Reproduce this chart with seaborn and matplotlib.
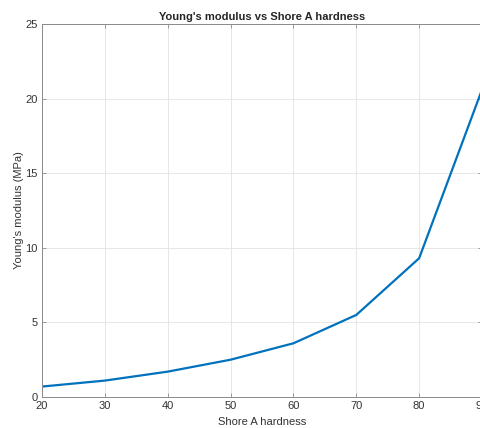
import matplotlib
matplotlib.use("Agg")
import matplotlib.pyplot as plt
import seaborn as sns
import pandas as pd

shore_a = [20, 30, 40, 50, 60, 70, 80, 90]
youngs_mpa = [0.7, 1.1, 1.7, 2.5, 3.6, 5.5, 9.3, 20.6]

sns.set_style("white")
plt.rcParams['font.family'] = ['Liberation Sans', 'DejaVu Sans']

df = pd.DataFrame({"hardness": shore_a, "modulus": youngs_mpa})

fig = plt.figure(figsize=(4.8, 4.28), dpi=100)
ax = fig.add_axes([42 / 480, 31 / 428, 440 / 480, 373 / 428])
sns.lineplot(data=df, x="hardness", y="modulus", ax=ax, color="#0072BD", linewidth=1.6)

ax.set_xlim(20, 90)
ax.set_ylim(0, 25)
ax.set_xticks(range(20, 91, 10))
ax.set_yticks(range(0, 26, 5))
ax.grid(True, color="#e3e3e3", linewidth=0.6)
ax.set_axisbelow(True)
for s in ax.spines.values():
    s.set_color("#8a8a8a")
    s.set_linewidth(0.7)
ax.tick_params(direction="in", length=3, width=0.6, color="#8a8a8a",
               labelsize=8, labelcolor="#333333", top=True, right=True,
               bottom=True, left=True, pad=3)
ax.set_xlabel("Shore A hardness", fontsize=8, color="#333333", labelpad=4)
ax.set_ylabel("Young's modulus (MPa)", fontsize=8, color="#333333", labelpad=1)
ax.set_title("Young's modulus vs Shore A hardness", fontsize=8, fontweight="bold", pad=3)

fig.savefig("out.png", dpi=100)
